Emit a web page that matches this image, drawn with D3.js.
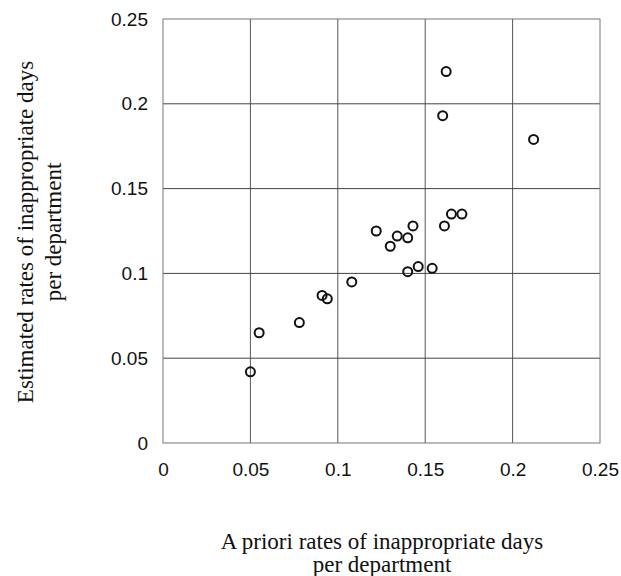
<!DOCTYPE html>
<html>
<head>
<meta charset="utf-8">
<script src="https://cdn.jsdelivr.net/npm/d3@7"></script>
<style>
  body { margin: 0; background: #fff; }
  .tick text { font-family: "Liberation Sans", Arial, sans-serif; font-size: 19px; fill: #111; }
  .title { font-family: "Liberation Serif", "Times New Roman", serif; font-size: 23px; fill: #111; }
</style>
</head>
<body>
<svg id="chart"></svg>
<script>
/* A priori vs estimated rates per department */
const aPriori = [0.050, 0.055, 0.078, 0.091, 0.094, 0.108, 0.122, 0.130, 0.134, 0.140, 0.143,
  0.140, 0.146, 0.154, 0.161, 0.165, 0.171, 0.162, 0.160, 0.212]
const estimated = [0.042, 0.065, 0.071, 0.087, 0.085, 0.095, 0.125, 0.116, 0.122, 0.121, 0.128,
  0.101, 0.104, 0.103, 0.128, 0.135, 0.135, 0.219, 0.193, 0.179]
const ticks = [0, 0.05, 0.1, 0.15, 0.2, 0.25]

const width = 621
const height = 576
const margin = { top: 19, right: 21, bottom: 133, left: 163 }
const innerW = width - margin.left - margin.right
const innerH = height - margin.top - margin.bottom

const svg = d3.select('#chart')
  .attr('width', width)
  .attr('height', height)

const g = svg.append('g')
  .attr('transform', `translate(${margin.left},${margin.top})`)

const x = d3.scaleLinear().domain([0, 0.25]).range([0, innerW])
const y = d3.scaleLinear().domain([0, 0.25]).range([innerH, 0])

/* gridlines */
g.append('g')
  .selectAll('line.vx')
  .data(ticks.slice(1, -1))
  .enter().append('line')
  .attr('x1', d => x(d)).attr('x2', d => x(d))
  .attr('y1', 0).attr('y2', innerH)
  .attr('stroke', '#555').attr('stroke-width', 1)

g.append('g')
  .selectAll('line.hy')
  .data(ticks.slice(1, -1))
  .enter().append('line')
  .attr('x1', 0).attr('x2', innerW)
  .attr('y1', d => y(d)).attr('y2', d => y(d))
  .attr('stroke', '#444').attr('stroke-width', 1)

/* frame */
g.append('rect')
  .attr('width', innerW).attr('height', innerH)
  .attr('fill', 'none').attr('stroke', '#777').attr('stroke-width', 1)

/* axes (labels only) */
const fmt = d => d === 0 ? '0' : String(d)

g.append('g')
  .attr('transform', `translate(0,${innerH})`)
  .call(d3.axisBottom(x).tickValues(ticks).tickFormat(fmt).tickSize(0).tickPadding(20))
  .call(s => s.select('.domain').remove())

g.append('g')
  .call(d3.axisLeft(y).tickValues(ticks).tickFormat(fmt).tickSize(0).tickPadding(15))
  .call(s => s.select('.domain').remove())

/* points */
g.append('g')
  .selectAll('circle')
  .data(aPriori)
  .enter().append('circle')
  .attr('cx', d => x(d))
  .attr('cy', (d, i) => y(estimated[i]))
  .attr('r', 4.5)
  .attr('fill', 'none')
  .attr('stroke', '#111')
  .attr('stroke-width', 2)

/* axis titles */
const xt = svg.append('text')
  .attr('class', 'title')
  .attr('text-anchor', 'middle')
xt.append('tspan').attr('x', 382).attr('y', 549).text('A priori rates of inappropriate days')
xt.append('tspan').attr('x', 382).attr('y', 572).text('per department')

const yt = svg.append('text')
  .attr('class', 'title')
  .attr('text-anchor', 'middle')
  .attr('transform', 'translate(0,232) rotate(-90)')
yt.append('tspan').attr('x', 0).attr('y', 33).text('Estimated rates of inappropriate days')
yt.append('tspan').attr('x', 0).attr('y', 61).text('per department')
</script>
</body>
</html>
